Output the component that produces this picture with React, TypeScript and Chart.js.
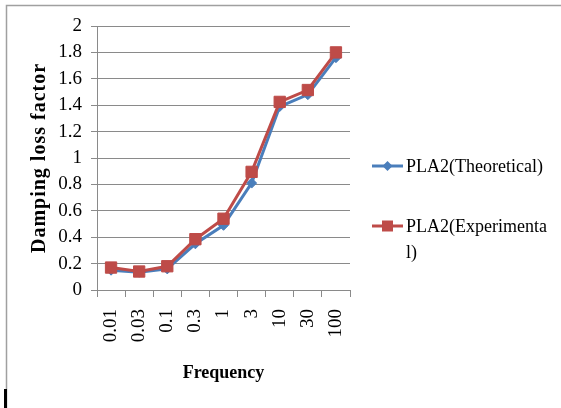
import React, { useEffect, useRef } from "react";
import { Chart, registerables } from "chart.js";

Chart.register(...registerables);

// Frequency categories and damping loss factor for the two PLA2 series
const frequencies = ["0.01", "0.03", "0.1", "0.3", "1", "3", "10", "30", "100"];
const theoretical = [0.15, 0.135, 0.16, 0.35, 0.49, 0.81, 1.39, 1.48, 1.76];
const experimental = [0.17, 0.14, 0.18, 0.385, 0.54, 0.895, 1.425, 1.515, 1.8];
const yTicks = { min: 0, max: 2, step: 0.2 };

const seriesNames = ["PLA2(Theoretical)", "PLA2(Experimental)"];
const BLUE = "#4a7ebb";
const RED = "#be4b48";
const GRID = "#8a8a8a";
const SERIF = "'Liberation Serif', 'Times New Roman', serif";

// Frame, axis titles and the side legend drawn straight on the canvas
const decorations = {
  id: "decorations",
  beforeDraw(chart: Chart) {
    const ctx = chart.ctx;
    ctx.save();
    ctx.fillStyle = "#ffffff";
    ctx.fillRect(0, 0, chart.width, chart.height);
    ctx.strokeStyle = "#a0a0a0";
    ctx.lineWidth = 1.5;
    ctx.beginPath();
    ctx.moveTo(6.5, chart.height);
    ctx.lineTo(6.5, 5.5);
    ctx.lineTo(chart.width, 5.5);
    ctx.stroke();
    ctx.fillStyle = "#000000";
    ctx.fillRect(4, 389, 3, 19);
    ctx.restore();
  },
  afterDraw(chart: Chart) {
    const ctx = chart.ctx;
    const area = chart.chartArea;
    ctx.save();
    ctx.fillStyle = "#000000";

    // x-axis title
    ctx.font = `bold 18px ${SERIF}`;
    ctx.textAlign = "center";
    ctx.textBaseline = "alphabetic";
    ctx.fillText("Frequency", (area.left + area.right) / 2, 378);

    // y-axis title
    ctx.save();
    ctx.translate(40, (area.top + area.bottom) / 2);
    ctx.rotate(-Math.PI / 2);
    ctx.font = `bold 20px ${SERIF}`;
    (ctx as any).letterSpacing = "1px";
    ctx.textBaseline = "middle";
    ctx.fillText("Damping loss factor", 0, 0);
    ctx.restore();

    // legend
    const x0 = 372;
    const x1 = 403;
    const xm = (x0 + x1) / 2;
    const entries = [
      { color: BLUE, y: 166, lines: [seriesNames[0]], marker: "diamond" },
      { color: RED, y: 226, lines: ["PLA2(Experimenta", "l)"], marker: "square" },
    ];
    ctx.font = `18px ${SERIF}`;
    ctx.textAlign = "left";
    ctx.textBaseline = "middle";
    for (const e of entries) {
      ctx.strokeStyle = e.color;
      ctx.lineWidth = 3;
      ctx.beginPath();
      ctx.moveTo(x0, e.y);
      ctx.lineTo(x1, e.y);
      ctx.stroke();
      ctx.fillStyle = e.color;
      ctx.beginPath();
      if (e.marker === "diamond") {
        ctx.moveTo(xm, e.y - 5);
        ctx.lineTo(xm + 5, e.y);
        ctx.lineTo(xm, e.y + 5);
        ctx.lineTo(xm - 5, e.y);
        ctx.closePath();
      } else {
        ctx.rect(xm - 5.5, e.y - 5.5, 11, 11);
      }
      ctx.fill();
      ctx.fillStyle = "#000000";
      e.lines.forEach((t, i) => ctx.fillText(t, 406, e.y + 1 + i * 26));
    }
    ctx.restore();
  },
};

export default function App() {
  const canvasRef = useRef<HTMLCanvasElement | null>(null);

  useEffect(() => {
    const canvas = canvasRef.current;
    if (!canvas) return;
    const chart = new Chart(canvas, {
      type: "line",
      data: {
        labels: frequencies,
        datasets: [
          {
            label: seriesNames[0],
            data: theoretical,
            borderColor: BLUE,
            backgroundColor: BLUE,
            borderWidth: 3,
            pointStyle: "rectRot",
            pointRadius: 5,
            pointBorderWidth: 1,
            order: 1,
          },
          {
            label: seriesNames[1],
            data: experimental,
            borderColor: RED,
            backgroundColor: RED,
            borderWidth: 3,
            pointStyle: "rect",
            pointRadius: 8,
            pointBorderWidth: 1,
            order: 0,
          },
        ],
      },
      options: {
        responsive: false,
        animation: false,
        events: [],
        layout: { padding: { top: 26, right: 211, bottom: 0, left: 0 } },
        plugins: {
          legend: { display: false },
          tooltip: { enabled: false },
          title: { display: false },
        },
        scales: {
          x: {
            offset: true,
            grid: {
              offset: true,
              drawOnChartArea: false,
              drawTicks: true,
              tickLength: 7,
              color: GRID,
            },
            border: { color: GRID, width: 1 },
            ticks: {
              color: "#000000",
              font: { family: SERIF, size: 19 },
              minRotation: 90,
              maxRotation: 90,
              padding: 12,
              autoSkip: false,
            },
            afterFit(scale: any) {
              scale.height = 118;
            },
          },
          y: {
            min: yTicks.min,
            max: yTicks.max,
            grid: { color: GRID, tickLength: 6, drawTicks: true },
            border: { color: GRID, width: 1 },
            ticks: {
              stepSize: yTicks.step,
              color: "#000000",
              font: { family: SERIF, size: 19 },
              padding: 9,
              callback: (v: any) => String(Number(Number(v).toFixed(1))),
            },
            afterFit(scale: any) {
              scale.width = 97;
            },
          },
        },
      },
      plugins: [decorations],
    });
    return () => chart.destroy();
  }, []);

  return (
    <div style={{ position: "absolute", left: 0, top: 0, width: 561, height: 408, background: "#fff" }}>
      <canvas ref={canvasRef} width={561} height={408} />
    </div>
  );
}
